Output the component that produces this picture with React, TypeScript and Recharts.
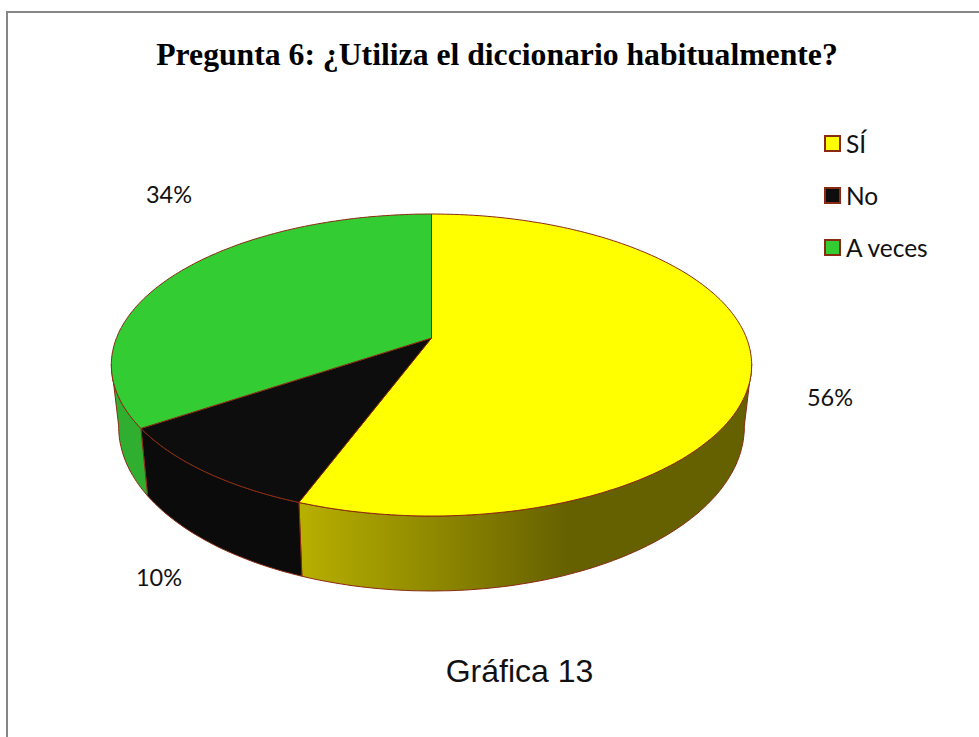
import React from "react";
import { PieChart, Pie, Legend } from "recharts";

const categorias = ["SÍ", "No", "A veces"];
const valores = [55.7, 9.9, 34.4];
const colores = ["#ffff00", "#0d0d0d", "#33cc33"];
const coloresPared = ["url(#paredAmarilla)", "#0b0b0b", "#2fae2f"];

const data = categorias.map((name, i) => ({
  name,
  value: valores[i],
  fill: colores[i],
  pared: coloresPared[i],
}));

// where Excel left the percentage labels
const posEtiquetas: Record<string, { x: number; y: number }> = {
  "SÍ": { x: 830, y: 397 },
  No: { x: 159, y: 577 },
  "A veces": { x: 169, y: 194 },
};

const BORDE = "#8a2a12";
const FUENTE = "Lato, Carlito, sans-serif";

// perspective of the tilted disc
const C = 0.1788;
const ALTO = 0.464;

function proyectar(cx: number, cy: number, r: number, theta: number) {
  const rad = (theta * Math.PI) / 180;
  const u = Math.sin(rad);
  const v = Math.cos(rad);
  const w = 1 + C * v;
  return { x: cx + (r * u) / w, y: cy - (r * ALTO * v) / w };
}

// lower rim of the disc, a bit narrower and shallower at the sides
function bajar(cx: number, p: { x: number; y: number }) {
  const prof = 62 + (13 * (p.y - 365)) / 151;
  return { x: cx + (p.x - cx) * 0.977, y: p.y + prof };
}

function pts(list: { x: number; y: number }[]) {
  return list.map((p) => `${p.x.toFixed(1)},${p.y.toFixed(1)}`).join(" L");
}

function Porcion(props: any) {
  const { cx, cy, outerRadius, startAngle, endAngle, fill, pared } = props;
  const t0 = 90 - startAngle;
  const t1 = 90 - endAngle;

  const rim: { x: number; y: number }[] = [];
  for (let t = t0; t < t1; t += 1) rim.push(proyectar(cx, cy, outerRadius, t));
  rim.push(proyectar(cx, cy, outerRadius, t1));

  // only the front of the disc shows a wall
  const a = Math.max(t0, 100);
  const b = Math.min(t1, 260);
  let muro = null;
  if (b > a) {
    const arriba: { x: number; y: number }[] = [];
    for (let t = a; t < b; t += 1) arriba.push(proyectar(cx, cy, outerRadius, t));
    arriba.push(proyectar(cx, cy, outerRadius, b));
    const abajo = arriba.map((p) => bajar(cx, p)).reverse();
    muro = (
      <path
        d={`M${pts(arriba)} L${pts(abajo)} Z`}
        fill={pared}
        stroke={BORDE}
        strokeWidth={1}
        strokeLinejoin="round"
      />
    );
  }

  return (
    <g>
      {muro}
      <path
        d={`M${cx},${cy} L${pts(rim)} Z`}
        fill={fill}
        stroke={BORDE}
        strokeWidth={1}
        strokeLinejoin="round"
      />
    </g>
  );
}

function Etiqueta(props: any) {
  const pos = posEtiquetas[props.name];
  return (
    <text
      x={pos.x}
      y={pos.y}
      textAnchor="middle"
      dominantBaseline="central"
      fontFamily={FUENTE}
      fontSize={23.5}
      fill="#111"
    >
      {Math.round(props.value)}%
    </text>
  );
}

function Leyenda({ payload }: any) {
  return (
    <div>
      {(payload || []).map((item: any) => (
        <div
          key={item.value}
          style={{ display: "flex", alignItems: "center", height: 52 }}
        >
          <span
            style={{
              width: 13,
              height: 13,
              background: item.color,
              border: `2px solid ${BORDE}`,
              marginRight: 5,
            }}
          />
          <span style={{ fontFamily: FUENTE, fontSize: 24.5, color: "#111" }}>
            {item.value}
          </span>
        </div>
      ))}
    </div>
  );
}

export default function App() {
  return (
    <div style={{ position: "absolute", left: 0, top: 0, width: 979, height: 737 }}>
      <div
        style={{
          position: "absolute",
          left: 6,
          top: 11,
          width: 973,
          height: 726,
          boxSizing: "border-box",
          borderTop: "2px solid #868686",
          borderLeft: "2px solid #868686",
        }}
      />
      <PieChart
        width={979}
        height={737}
        margin={{ top: 0, right: 0, bottom: 0, left: 0 }}
        style={{ position: "absolute", left: 0, top: 0 }}
      >
        <defs>
          <linearGradient id="paredAmarilla" gradientUnits="userSpaceOnUse" x1={299} y1={0} x2={567} y2={0}>
            <stop offset="0%" stopColor="#b8b000" />
            <stop offset="100%" stopColor="#666100" />
          </linearGradient>
        </defs>
        <text
          x={497}
          y={65}
          textAnchor="middle"
          fontFamily="'Liberation Serif', serif"
          fontWeight="bold"
          fontSize={31.7}
          fill="#000"
        >
          Pregunta 6: ¿Utiliza el diccionario habitualmente?
        </text>
        <text
          x={519.5}
          y={682}
          textAnchor="middle"
          fontFamily="'Liberation Sans', sans-serif"
          fontSize={32}
          fill="#111"
        >
          Gráfica 13
        </text>
        <Pie
          data={data}
          dataKey="value"
          nameKey="name"
          cx={431.5}
          cy={338}
          outerRadius={315}
          startAngle={90}
          endAngle={-270}
          legendType="square"
          shape={Porcion}
          label={Etiqueta}
          labelLine={false}
          isAnimationActive={false}
        />
        <Legend
          layout="vertical"
          align="right"
          verticalAlign="top"
          itemSorter={null}
          content={Leyenda}
          wrapperStyle={{ left: 824, top: 117, width: 150 }}
        />
      </PieChart>
    </div>
  );
}
